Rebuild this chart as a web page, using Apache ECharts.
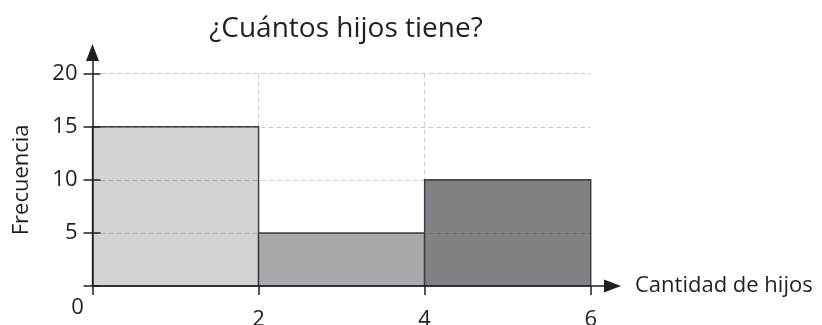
<!DOCTYPE html>
<html>
<head>
<meta charset="utf-8">
<script src="https://cdn.jsdelivr.net/npm/echarts@6/dist/echarts.min.js"></script>
<style>html,body{margin:0;padding:0;background:#fff}#c{width:822px;height:325px}</style>
</head>
<body>
<div id="c"></div>
<script>
// ---- data ----
const titleText = '¿Cuántos hijos tiene?';
const xAxisName = 'Cantidad de hijos';
const yAxisName = 'Frecuencia';
const binStart = [0, 2, 4];
const binEnd = [2, 4, 6];
const frequency = [15, 5, 10];
const xMin = 0, xMax = 6, xStep = 2;
const yMin = 0, yMax = 20, yStep = 5;
const originLabel = '0';

// ---- styles ----
const barColors = ['#d1d3d4', '#a7a9ac', '#808285'];
const ink = '#231f20';
const FONT = '"Open Sans", "Noto Sans", sans-serif';

const chart = echarts.init(document.getElementById('c'), null, {renderer: 'canvas'});

const gridLine = {show: true, showMinLine: false, showMaxLine: false,
  lineStyle: {color: 'rgba(35,31,32,0.22)', type: [5, 3], width: 1}};

chart.setOption({
  backgroundColor: '#ffffff',
  animation: false,
  title: {
    text: titleText, left: 341, top: 10, textAlign: 'center',
    textStyle: {fontFamily: FONT, fontSize: 28, fontWeight: 'normal', color: ink}
  },
  grid: [
    {left: 92.5, right: 231.3, top: 73.7, bottom: 39, containLabel: false, outerBoundsMode: 'none'},
    {left: 92.5, right: 209.5, top: 52.5, bottom: 39, containLabel: false, outerBoundsMode: 'none'}
  ],
  xAxis: [
    {
      gridIndex: 0, type: 'value', position: 'bottom', min: xMin, max: xMax, interval: xStep, z: 5,
      axisLine: {show: false},
      axisTick: {show: true, length: 9, lineStyle: {color: ink, width: 1.5}},
      axisLabel: {margin: 23, fontFamily: FONT, fontSize: 22, color: ink,
        formatter: v => v === 0 ? '' : String(v)},
      splitLine: Object.assign({}, gridLine, {showMaxLine: false})
    },
    {
      gridIndex: 1, type: 'value', position: 'bottom', min: 0, max: 1, z: 6,
      axisLine: {show: true, symbol: ['none', 'triangle'], symbolSize: [13, 17],
        lineStyle: {color: ink, width: 1.5}},
      axisTick: {show: false}, axisLabel: {show: false}, splitLine: {show: false},
      name: xAxisName, nameLocation: 'end', nameGap: 22.5,
      nameTextStyle: {fontFamily: FONT, fontSize: 22, color: ink, align: 'left', verticalAlign: 'middle'}
    }
  ],
  yAxis: [
    {
      gridIndex: 0, type: 'value', position: 'left', offset: 0, min: yMin, max: yMax, interval: yStep, z: 5,
      axisLine: {show: false},
      axisTick: {show: true, length: 9, lineStyle: {color: ink, width: 1.5}},
      axisLabel: {margin: 15, fontFamily: FONT, fontSize: 22, color: ink,
        formatter: v => v === 0 ? '' : String(v)},
      splitLine: Object.assign({}, gridLine, {showMaxLine: true}),
      name: yAxisName, nameLocation: 'middle', nameGap: 60, nameRotate: 90,
      nameTextStyle: {fontFamily: FONT, fontSize: 22, color: ink}
    },
    {
      gridIndex: 0, type: 'value', position: 'left', offset: 0, min: yMin, max: yMax, interval: yStep, z: 5,
      axisLine: {show: false},
      axisTick: {show: true, inside: true, length: 8, lineStyle: {color: ink, width: 1.5}},
      axisLabel: {show: false}, splitLine: {show: false}
    },
    {
      gridIndex: 1, type: 'value', position: 'left', min: 0, max: 1, z: 6,
      axisLine: {show: true, symbol: ['none', 'triangle'], symbolSize: [13, 17],
        lineStyle: {color: ink, width: 1.5}},
      axisTick: {show: false}, axisLabel: {show: false}, splitLine: {show: false}
    }
  ],
  series: [{
    type: 'custom', xAxisIndex: 0, yAxisIndex: 0, z: 2,
    data: frequency.map((f, i) => [binStart[i], binEnd[i], f]),
    renderItem: function (params, api) {
      const a = api.coord([api.value(0), 0]);
      const b = api.coord([api.value(1), api.value(2)]);
      return {
        type: 'rect',
        shape: {x: a[0], y: b[1], width: b[0] - a[0], height: a[1] - b[1]},
        style: {fill: barColors[params.dataIndex], stroke: '#414042', lineWidth: 1.5}
      };
    }
  }]
});

const p0 = chart.convertToPixel({gridIndex: 0}, [xMin, yMin]);
chart.setOption({
  graphic: [{
    type: 'text', x: p0[0] - 15, y: p0[1] + 22, z: 10,
    style: {text: originLabel, fill: ink, font: '22px ' + FONT, textAlign: 'center', textVerticalAlign: 'middle'}
  }]
});
</script>
</body>
</html>
